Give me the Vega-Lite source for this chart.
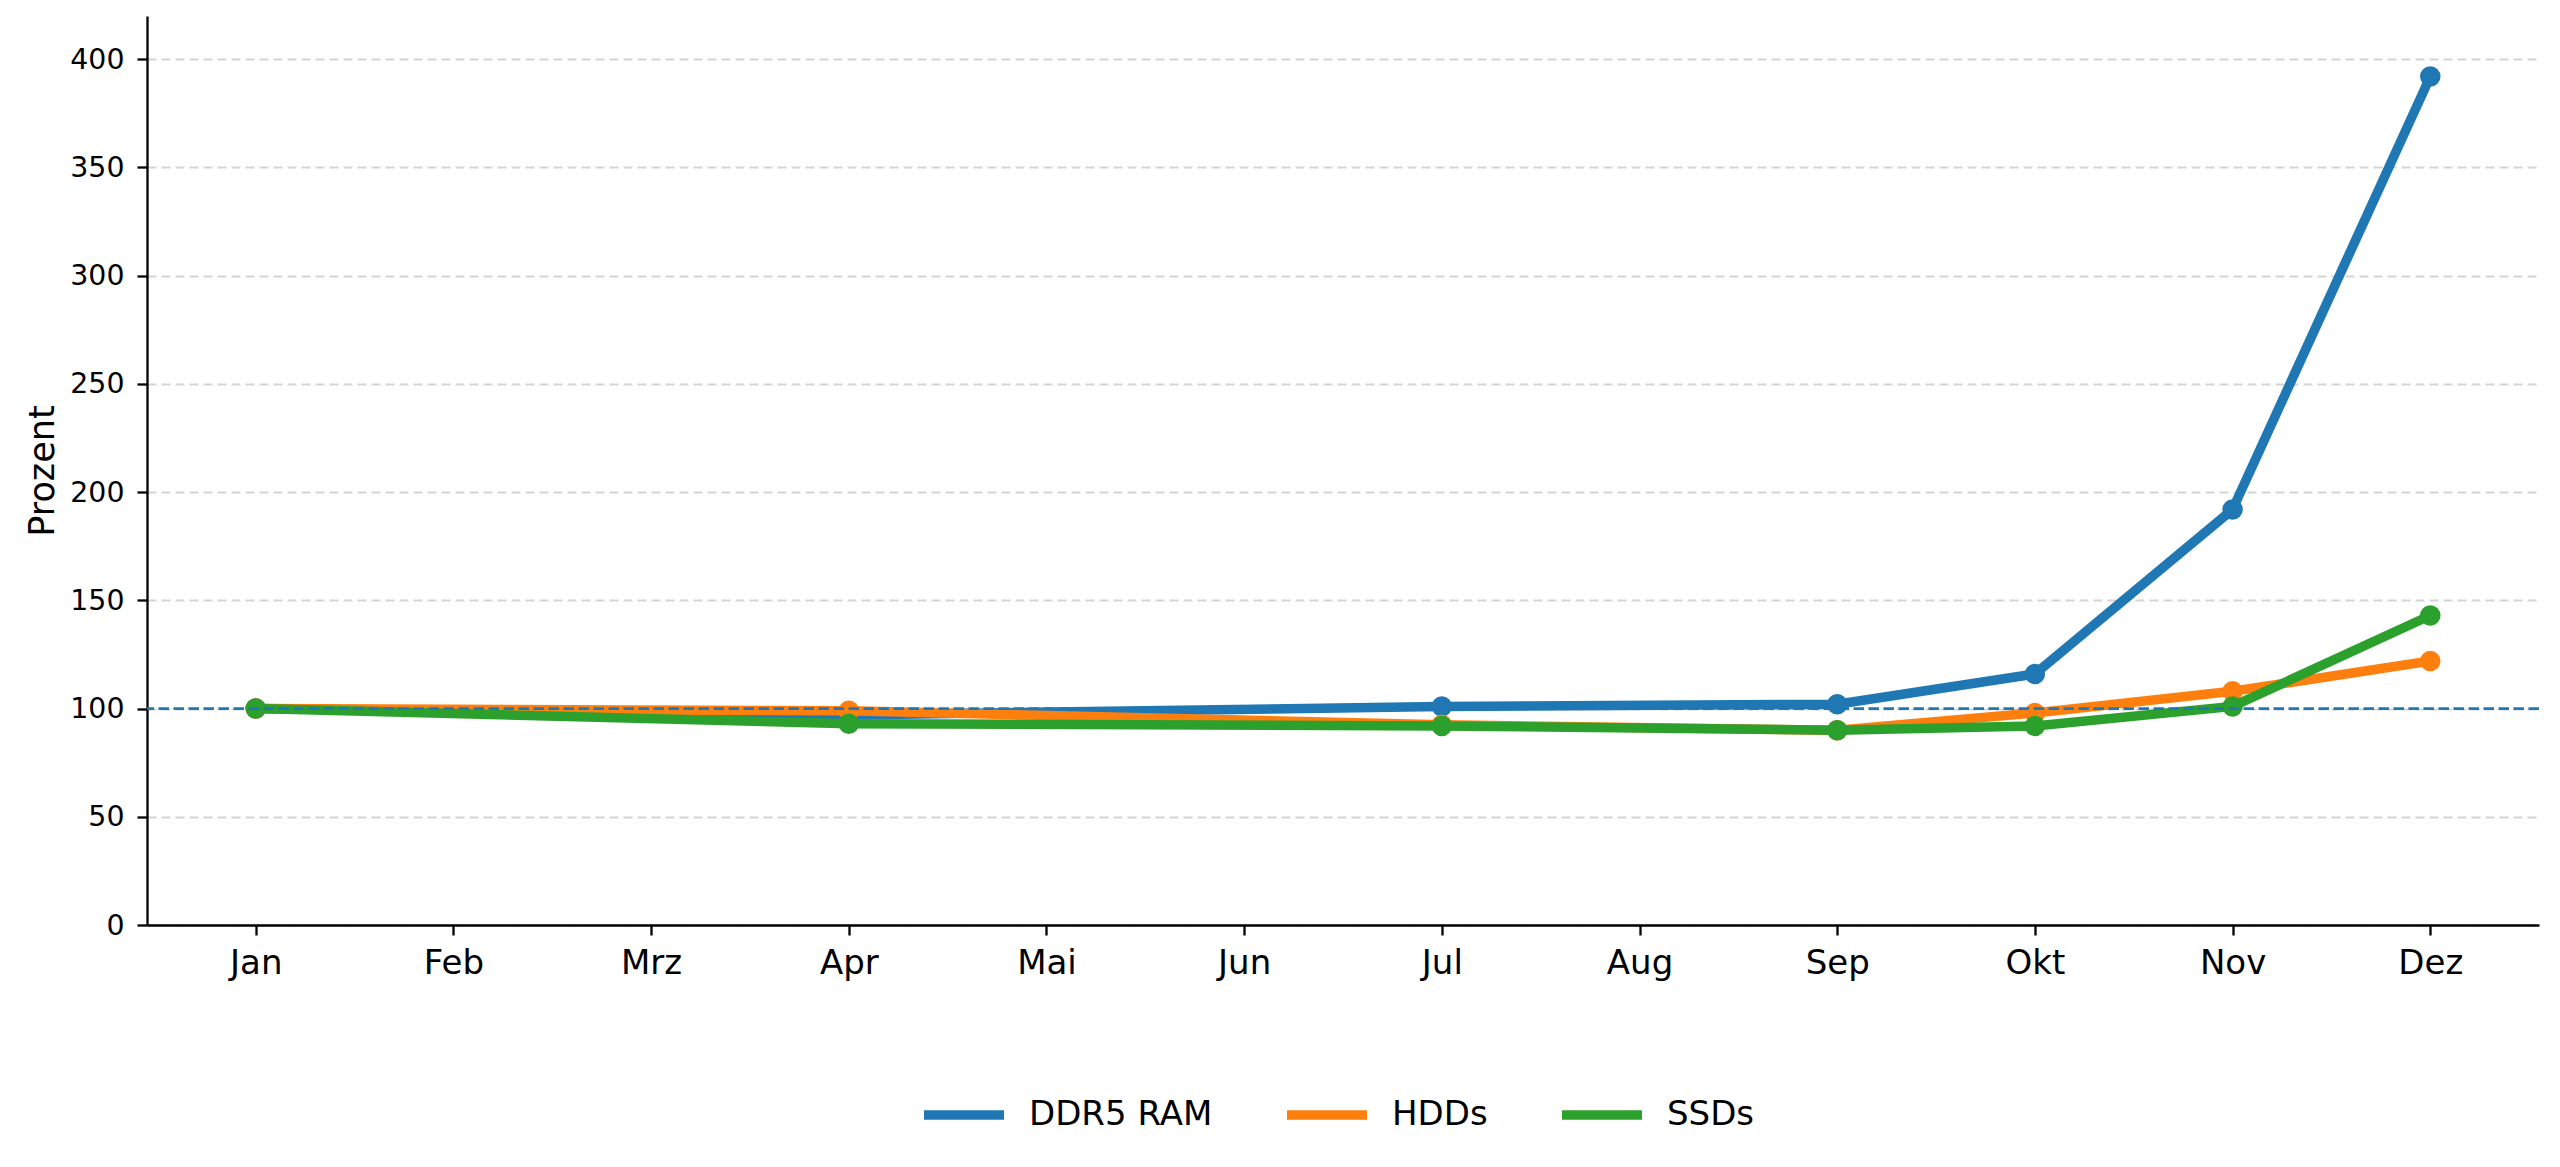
{
  "$schema": "https://vega.github.io/schema/vega-lite/v6.json",
  "description": "Preisentwicklung DDR5 RAM, HDDs und SSDs in Prozent (Jan = 100)",
  "width": 2392,
  "height": 909,
  "autosize": {"type": "none"},
  "padding": {"left": 147, "top": 16, "right": 21, "bottom": 242},
  "background": "white",
  "datasets": {
    "werte": [
      {"Monat": "Jan", "Serie": "DDR5 RAM", "Prozent": 100},
      {"Monat": "Apr", "Serie": "DDR5 RAM", "Prozent": 97},
      {"Monat": "Jul", "Serie": "DDR5 RAM", "Prozent": 101},
      {"Monat": "Sep", "Serie": "DDR5 RAM", "Prozent": 102},
      {"Monat": "Okt", "Serie": "DDR5 RAM", "Prozent": 116},
      {"Monat": "Nov", "Serie": "DDR5 RAM", "Prozent": 192},
      {"Monat": "Dez", "Serie": "DDR5 RAM", "Prozent": 392},
      {"Monat": "Jan", "Serie": "HDDs", "Prozent": 100},
      {"Monat": "Apr", "Serie": "HDDs", "Prozent": 99},
      {"Monat": "Jul", "Serie": "HDDs", "Prozent": 92.5},
      {"Monat": "Sep", "Serie": "HDDs", "Prozent": 90},
      {"Monat": "Okt", "Serie": "HDDs", "Prozent": 98},
      {"Monat": "Nov", "Serie": "HDDs", "Prozent": 108},
      {"Monat": "Dez", "Serie": "HDDs", "Prozent": 122},
      {"Monat": "Jan", "Serie": "SSDs", "Prozent": 100},
      {"Monat": "Apr", "Serie": "SSDs", "Prozent": 93},
      {"Monat": "Jul", "Serie": "SSDs", "Prozent": 92},
      {"Monat": "Sep", "Serie": "SSDs", "Prozent": 90},
      {"Monat": "Okt", "Serie": "SSDs", "Prozent": 92},
      {"Monat": "Nov", "Serie": "SSDs", "Prozent": 101},
      {"Monat": "Dez", "Serie": "SSDs", "Prozent": 143}
    ],
    "referenz": [{"Prozent": 100}]
  },
  "data": {"name": "werte"},
  "encoding": {
    "y": {
      "field": "Prozent",
      "type": "quantitative",
      "scale": {"domain": [0, 420], "nice": false, "zero": true},
      "axis": {
        "values": [0, 50, 100, 150, 200, 250, 300, 350, 400],
        "title": "Prozent",
        "titleFontSize": 35,
        "titleFontWeight": "normal",
        "titleColor": "black",
        "titlePadding": 9,
        "labelFontSize": 28.4,
        "labelColor": "black",
        "labelPadding": 13,
        "domainColor": "black",
        "domainWidth": 2.3,
        "tickColor": "black",
        "tickWidth": 2.3,
        "tickSize": 10,
        "grid": true,
        "gridColor": "#d4d4d4",
        "gridWidth": 2,
        "gridDash": [9, 5]
      }
    }
  },
  "layer": [
    {
      "encoding": {
        "x": {
          "field": "Monat",
          "type": "ordinal",
          "scale": {
            "type": "point",
            "domain": ["Jan", "Feb", "Mrz", "Apr", "Mai", "Jun", "Jul", "Aug", "Sep", "Okt", "Nov", "Dez"],
            "padding": 0.55
          },
          "axis": {
            "title": null,
            "labelAngle": 0,
            "labelFontSize": 34,
            "labelColor": "black",
            "labelPadding": 11,
            "domainColor": "black",
            "domainWidth": 2.3,
            "tickColor": "black",
            "tickWidth": 2.3,
            "tickSize": 10,
            "grid": false
          }
        },
        "color": {
          "field": "Serie",
          "type": "nominal",
          "scale": {
            "domain": ["DDR5 RAM", "HDDs", "SSDs"],
            "range": ["#1f77b4", "#ff7f0e", "#2ca02c"]
          },
          "legend": {
            "title": null,
            "orient": "none",
            "legendX": 772,
            "legendY": 1054,
            "direction": "horizontal",
            "padding": 0,
            "symbolType": "stroke",
            "symbolSize": 6400,
            "symbolStrokeWidth": 9.5,
            "labelFontSize": 34,
            "labelColor": "black",
            "labelLimit": 500,
            "labelOffset": 20,
            "columnPadding": 55
          }
        }
      },
      "layer": [
        {"transform": [{"filter": "datum.Serie === 'DDR5 RAM'"}], "mark": {"type": "line", "strokeWidth": 9.5}},
        {"transform": [{"filter": "datum.Serie === 'DDR5 RAM'"}], "mark": {"type": "point", "filled": true, "size": 420, "opacity": 1, "strokeWidth": 0}},
        {"transform": [{"filter": "datum.Serie === 'HDDs'"}], "mark": {"type": "line", "strokeWidth": 9.5}},
        {"transform": [{"filter": "datum.Serie === 'HDDs'"}], "mark": {"type": "point", "filled": true, "size": 420, "opacity": 1, "strokeWidth": 0}},
        {"transform": [{"filter": "datum.Serie === 'SSDs'"}], "mark": {"type": "line", "strokeWidth": 9.5}},
        {"transform": [{"filter": "datum.Serie === 'SSDs'"}], "mark": {"type": "point", "filled": true, "size": 420, "opacity": 1, "strokeWidth": 0}}
      ]
    },
    {
      "data": {"name": "referenz"},
      "mark": {"type": "rule", "color": "#1f77b4", "strokeWidth": 2.8, "strokeDash": [10.5, 4.5]}
    }
  ],
  "config": {
    "font": "DejaVu Sans",
    "view": {"stroke": null}
  }
}
